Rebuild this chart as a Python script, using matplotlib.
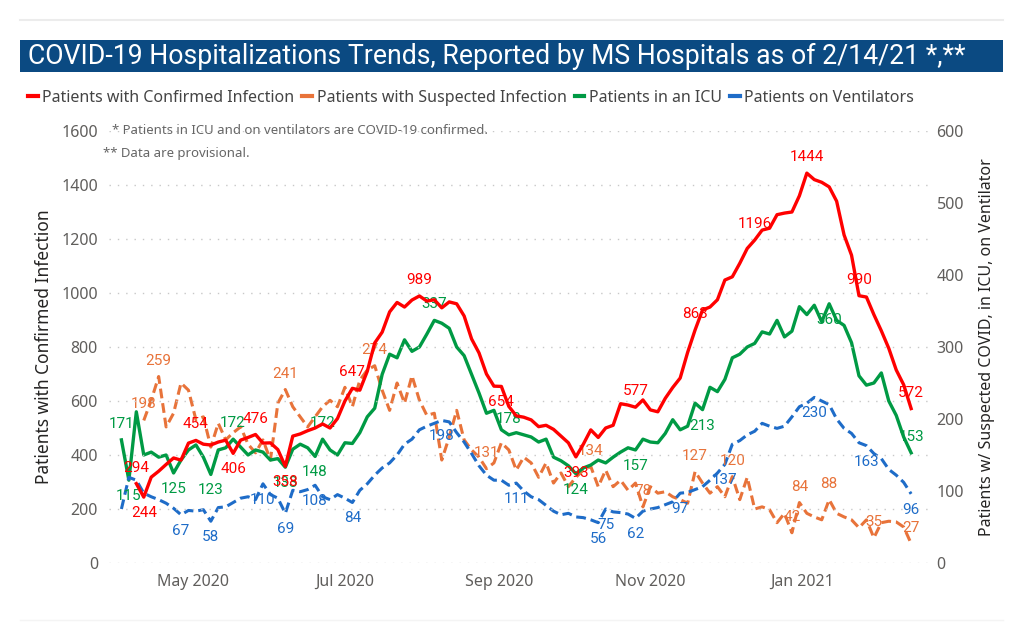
import numpy as np
import pandas as pd
import matplotlib
matplotlib.use("Agg")
import matplotlib.pyplot as plt
import matplotlib.dates as mdates
from matplotlib.patches import Rectangle
from matplotlib.lines import Line2D

nan = np.nan

# ---- data (every 3rd day) ----
dates = pd.date_range("2020-04-02", periods=107, freq="3D")

confirmed = [nan, nan, 294, 244, 318, 340, 365, 389, 381, 444,
             454, 440, 437, 448, 455, 406, 455, 465, 476, 444,
             445, 420, 358, 470, 478, 490, 500, 515, 500, 535,
             600, 647, 640, 710, 815, 855, 930, 965, 948, 974,
             989, 970, 975, 945, 967, 960, 915, 830, 778, 700,
             655, 654, 580, 545, 540, 530, 505, 510, 495, 470,
             445, 393, 440, 493, 465, 500, 510, 590, 585, 577,
             604, 567, 560, 610, 650, 685, 780, 863, 937, 948,
             975, 1048, 1060, 1110, 1165, 1196, 1233, 1240, 1290, 1296,
             1300, 1360, 1444, 1420, 1410, 1393, 1340, 1215, 1140, 990,
             985, 920, 860, 795, 715, 660, 572]

suspected = [nan, nan, nan, 198, 226, 259, 189, 208, 250, 240,
             199, 203, 161, 194, 171, 181, 189, 165, 153, 171,
             143, 222, 241, 217, 203, 189, 203, 217, 226, 217,
             244, 217, 254, 268, 274, 240, 212, 250, 222, 260,
             226, 205, 208, 143, 175, 212, 171, 157, 147, 131,
             139, 167, 157, 129, 147, 139, 119, 139, 111, 125,
             106, 119, 129, 134, 106, 129, 106, 115, 101, 111,
             78, 106, 97, 99, 92, 88, 83, 127, 111, 97,
             106, 92, 120, 88, 119, 75, 78, 74, 56, 69,
             42, 84, 69, 64, 60, 88, 69, 64, 60, 49,
             60, 35, 56, 58, 57, 50, 27]

icu = [171, 115, 210, 150, 154, 147, 150, 125, 143, 157,
       164, 147, 123, 157, 160, 172, 161, 150, 157, 154,
       143, 145, 133, 158, 165, 160, 148, 172, 157, 150,
       167, 166, 181, 203, 215, 262, 290, 285, 310, 294,
       300, 318, 337, 333, 326, 300, 288, 262, 236, 208,
       212, 185, 178, 181, 178, 175, 168, 172, 147, 142,
       135, 124, 132, 136, 143, 139, 147, 154, 160, 157,
       172, 168, 167, 180, 199, 185, 190, 222, 213, 244,
       238, 255, 285, 290, 300, 305, 321, 318, 337, 314,
       322, 356, 345, 358, 335, 360, 337, 330, 306, 260,
       247, 250, 264, 225, 205, 175, 153]

vent = [75, 119, 115, 97, 92, 88, 83, 76, 67, 73,
        72, 74, 58, 77, 78, 84, 90, 92, 88, 110,
        95, 90, 69, 101, 99, 102, 108, 92, 88, 95,
        90, 84, 101, 110, 122, 132, 139, 150, 165, 172,
        185, 190, 194, 198, 196, 181, 168, 152, 135, 122,
        115, 115, 108, 111, 100, 92, 88, 80, 72, 67,
        69, 64, 63, 60, 56, 75, 71, 70, 68, 62,
        72, 75, 77, 81, 85, 97, 98, 102, 106, 115,
        125, 137, 165, 170, 178, 183, 194, 190, 187, 190,
        203, 217, 222, 230, 225, 220, 200, 187, 180, 167,
        163, 152, 145, 130, 122, 112, 96]

# points that carry a data label
confirmed_lbl = [2, 3, 10, 15, 18, 22, 31, 40, 51, 61, 69, 77, 85, 92, 99, 106]
suspected_lbl = [3, 5, 22, 34, 49, 63, 70, 77, 82, 90, 91, 95, 101, 106]
icu_lbl = [0, 1, 7, 12, 15, 22, 26, 27, 42, 52, 61, 69, 78, 95, 106]
vent_lbl = [8, 12, 19, 22, 26, 31, 43, 53, 64, 65, 69, 75, 81, 93, 100, 106]

# label side: 1 = above the point, -1 = below
confirmed_side = [1, -1, 1, -1, 1, -1, 1, 1, -1, -1, 1, 1, 1, 1, 1, 1]
suspected_side = [1] * len(suspected_lbl)
icu_side = [1, -1, -1, -1, 1, -1, -1, 1, 1, 1, -1, -1, -1, -1, 1]
vent_side = [-1] * len(vent_lbl)

series_names = ["Patients with Confirmed Infection", "Patients with Suspected Infection",
                "Patients in an ICU", "Patients on Ventilators"]
RED, ORANGE, GREEN, BLUE = "#FF0000", "#E8733A", "#009A44", "#1E6CC8"

# ---- figure ----
plt.rcParams["font.family"] = ["Noto Sans", "DejaVu Sans"]
fig = plt.figure(figsize=(10.23, 6.42), dpi=100)
W, H = 1023.0, 642.0

# decorations: thin rules and title bar
fig.add_artist(Line2D([20 / W, 1003 / W], [1 - 20 / H, 1 - 20 / H], color="#ececec", lw=1.5))
fig.add_artist(Line2D([20 / W, 1003 / W], [1 - 620 / H, 1 - 620 / H], color="#f4f4f4", lw=1))
fig.add_artist(Rectangle((20 / W, 1 - 72 / H), 983 / W, 32 / H, transform=fig.transFigure,
                         facecolor="#0B4A82", edgecolor="none"))
fig.text(28 / W, 1 - 56 / H, "COVID-19 Hospitalizations Trends, Reported by MS Hospitals as of 2/14/21 *,**",
         color="white", fontsize=19.2, va="center", ha="left", family="Roboto")

ax = fig.add_axes([109 / W, 1 - 563 / H, 822 / W, 432 / H])
ax2 = ax.twinx()
ax.set_zorder(ax2.get_zorder() + 1)
ax.patch.set_visible(False)

ax.plot(dates, confirmed, color=RED, lw=2.4, solid_joinstyle="round")
ax2.plot(dates, suspected, color=ORANGE, lw=2.2, linestyle=(0, (3.2, 1.6)))
ax2.plot(dates, icu, color=GREEN, lw=2.4, solid_joinstyle="round")
ax2.plot(dates, vent, color=BLUE, lw=2.2, linestyle=(0, (3.2, 1.6)))


def add_labels(axis, values, idx, side, color):
    for i, s in zip(idx, side):
        axis.annotate(f"{values[i]:.0f}", (dates[i], values[i]), xytext=(0, 11.5 * s),
                      textcoords="offset points", ha="center", va="center",
                      color=color, fontsize=11, family="Roboto", zorder=5)


add_labels(ax, confirmed, confirmed_lbl, confirmed_side, RED)
add_labels(ax2, suspected, suspected_lbl, suspected_side, ORANGE)
add_labels(ax2, icu, icu_lbl, icu_side, GREEN)
add_labels(ax2, vent, vent_lbl, vent_side, BLUE)

# axes
ax.set_xlim(pd.Timestamp("2020-03-28"), pd.Timestamp("2021-02-22"))
ax.set_ylim(0, 1600)
ax2.set_ylim(0, 600)
ax.set_yticks(np.arange(0, 1601, 200))
ax2.set_yticks(np.arange(0, 601, 100))
ax.xaxis.set_major_locator(mdates.MonthLocator(bymonth=[1, 5, 7, 9, 11]))
ax.xaxis.set_major_formatter(mdates.DateFormatter("%b %Y"))
ax.grid(axis="y", color="#c8c8c8", linestyle=(0, (1, 5)), lw=1)
for a in (ax, ax2):
    for sp in a.spines.values():
        sp.set_visible(False)
    a.tick_params(length=0, labelsize=11.5, labelcolor="#605E5C")
ax.tick_params(axis="y", pad=8)
ax2.tick_params(axis="y", pad=4)
ax.tick_params(axis="x", pad=8)
ax.set_ylabel("Patients with Confirmed Infection", fontsize=12.5, color="#252423", labelpad=6)
ax2.set_ylabel("Patients w/ Suspected COVID, in ICU, on Ventilator", fontsize=11.5,
               color="#252423", labelpad=11)

# notes
fig.text(112 / W, 1 - 130 / H, "* Patients in ICU and on ventilators are COVID-19 confirmed.",
         fontsize=9.5, color="#666666", va="center")
fig.text(103 / W, 1 - 153 / H, "** Data are provisional.", fontsize=9.5, color="#666666", va="center")

# legend
handles = [Line2D([], [], color=c, lw=3) for c in (RED, ORANGE, GREEN, BLUE)]
fig.legend(handles, series_names, loc="center left", bbox_to_anchor=(28 / W, 1 - 98 / H),
           ncol=4, frameon=False, fontsize=11.5, handlelength=0.6, handletextpad=0.3,
           columnspacing=0.5, borderaxespad=0, borderpad=0, labelcolor="#444444")

fig.savefig("out.png", dpi=100)
